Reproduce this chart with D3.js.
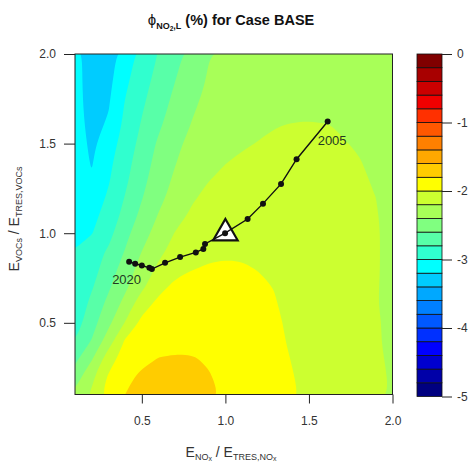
<!DOCTYPE html>
<html>
<head>
<meta charset="utf-8">
<script src="https://cdn.jsdelivr.net/npm/d3@7"></script>
<style>
body{margin:0;background:#fff}
text{font-family:"Liberation Sans",Arial,sans-serif}
</style>
</head>
<body>
<div id="chart"></div>
<script>
// grid of the field (x = E_NOx ratio, y = E_VOCs ratio)
const xGrid = [0.1,0.2,0.3,0.4,0.5,0.6,0.7,0.8,0.9,1.0,1.1,1.2,1.3,1.4,1.5,1.6,1.7,1.8,1.9,2.0]
const yGrid = [0.1,0.2,0.3,0.4,0.5,0.6,0.7,0.8,0.9,1.0,1.1,1.2,1.3,1.4,1.5,1.6,1.7,1.8,1.9,2.0]
// phi values (%) one row per yGrid entry, bottom row first
const phiRows = [
  [-2.35,-2.17,-1.90,-1.80,-1.75,-1.71,-1.70,-1.72,-1.77,-1.82,-1.86,-1.90,-1.94,-1.985,-2.03,-2.065,-2.10,-2.14,-2.175,-2.21],
  [-2.50,-2.25,-1.98,-1.84,-1.77,-1.75,-1.74,-1.76,-1.79,-1.84,-1.88,-1.915,-1.955,-1.995,-2.035,-2.07,-2.105,-2.14,-2.18,-2.21],
  [-2.65,-2.42,-2.09,-1.91,-1.84,-1.795,-1.785,-1.79,-1.815,-1.855,-1.895,-1.93,-1.965,-2.005,-2.045,-2.08,-2.115,-2.15,-2.185,-2.215],
  [-2.80,-2.59,-2.30,-1.98,-1.90,-1.86,-1.845,-1.845,-1.86,-1.885,-1.915,-1.945,-1.978,-2.015,-2.05,-2.09,-2.12,-2.155,-2.19,-2.22],
  [-2.90,-2.68,-2.45,-2.19,-1.95,-1.91,-1.89,-1.88,-1.89,-1.905,-1.93,-1.955,-1.985,-2.02,-2.055,-2.09,-2.125,-2.16,-2.19,-2.22],
  [-2.95,-2.74,-2.54,-2.33,-2.07,-1.95,-1.925,-1.91,-1.91,-1.92,-1.94,-1.965,-1.995,-2.03,-2.065,-2.10,-2.13,-2.165,-2.195,-2.225],
  [-2.93,-2.82,-2.63,-2.44,-2.24,-2.05,-1.96,-1.935,-1.93,-1.935,-1.95,-1.975,-2.005,-2.04,-2.075,-2.11,-2.14,-2.17,-2.195,-2.22],
  [-2.97,-2.88,-2.70,-2.51,-2.32,-2.16,-2.05,-2.005,-1.985,-1.98,-1.985,-2.005,-2.03,-2.06,-2.09,-2.12,-2.15,-2.175,-2.195,-2.215],
  [-2.99,-2.87,-2.78,-2.59,-2.40,-2.25,-2.13,-2.06,-2.03,-2.02,-2.02,-2.03,-2.05,-2.08,-2.105,-2.13,-2.155,-2.175,-2.195,-2.215],
  [-3.08,-3.01,-2.86,-2.66,-2.47,-2.33,-2.19,-2.12,-2.08,-2.06,-2.055,-2.06,-2.075,-2.095,-2.12,-2.145,-2.165,-2.18,-2.195,-2.215],
  [-3.10,-3.06,-2.92,-2.74,-2.55,-2.39,-2.27,-2.17,-2.12,-2.10,-2.09,-2.09,-2.10,-2.115,-2.135,-2.155,-2.17,-2.185,-2.197,-2.215],
  [-3.10,-3.13,-2.97,-2.79,-2.61,-2.45,-2.33,-2.22,-2.16,-2.135,-2.12,-2.115,-2.12,-2.13,-2.145,-2.16,-2.175,-2.19,-2.20,-2.215],
  [-3.10,-3.185,-3.02,-2.84,-2.66,-2.49,-2.37,-2.27,-2.205,-2.17,-2.15,-2.14,-2.14,-2.145,-2.155,-2.165,-2.18,-2.193,-2.205,-2.22],
  [-3.10,-3.215,-3.05,-2.87,-2.70,-2.53,-2.41,-2.31,-2.25,-2.205,-2.18,-2.165,-2.16,-2.165,-2.17,-2.18,-2.19,-2.198,-2.21,-2.22],
  [-3.10,-3.24,-3.10,-2.91,-2.74,-2.57,-2.44,-2.35,-2.29,-2.25,-2.215,-2.195,-2.185,-2.183,-2.185,-2.19,-2.197,-2.205,-2.215,-2.225],
  [-3.10,-3.27,-3.17,-2.95,-2.78,-2.63,-2.49,-2.39,-2.32,-2.28,-2.245,-2.22,-2.203,-2.195,-2.193,-2.197,-2.205,-2.213,-2.222,-2.23],
  [-3.10,-3.30,-3.21,-2.98,-2.82,-2.67,-2.54,-2.42,-2.35,-2.31,-2.28,-2.255,-2.237,-2.225,-2.22,-2.222,-2.227,-2.233,-2.24,-2.245],
  [-3.10,-3.32,-3.24,-3.02,-2.86,-2.71,-2.58,-2.46,-2.37,-2.33,-2.30,-2.28,-2.265,-2.255,-2.25,-2.25,-2.252,-2.256,-2.26,-2.265],
  [-3.10,-3.33,-3.27,-3.06,-2.90,-2.75,-2.62,-2.50,-2.39,-2.35,-2.32,-2.30,-2.285,-2.275,-2.27,-2.27,-2.27,-2.272,-2.275,-2.28],
  [-3.10,-3.34,-3.30,-3.10,-2.94,-2.79,-2.66,-2.53,-2.41,-2.37,-2.34,-2.32,-2.305,-2.295,-2.29,-2.287,-2.287,-2.29,-2.293,-2.297]
]
// colour classes, lowest first
const breaks = [-5,-4.8,-4.6,-4.4,-4.2,-4,-3.8,-3.6,-3.4,-3.2,-3,-2.8,-2.6,-2.4,-2.2,-2,-1.8,-1.6,-1.4,-1.2,-1,-0.8,-0.6,-0.4,-0.2,0]
const classColors = ["#000080","#0000a8","#0000d0","#0000ff","#0030ff","#0058ff","#0080ff","#00a8ff","#00ccff","#00ffff",
  "#30ffcf","#58ffa8","#80ff80","#a8ff58","#ccff30","#ffff00","#ffcc00","#ffa800","#ff8000","#ff5800",
  "#ff3000","#f00000","#cc0000","#a80000","#800000"]
const barTicks = [0,-1,-2,-3,-4,-5]
const axisTicks = [0.5,1.0,1.5,2.0]
// trajectory 2005 -> 2020
const years = [2005,2006,2007,2008,2009,2010,2011,2012,2013,2014,2015,2016,2017,2018,2019,2020]
const trajNOx = [1.612,1.426,1.333,1.225,1.133,0.998,0.878,0.868,0.823,0.729,0.639,0.56,0.545,0.50,0.46,0.424]
const trajVOC = [1.623,1.413,1.275,1.165,1.079,1.0,0.94,0.912,0.893,0.867,0.835,0.80,0.807,0.82,0.83,0.841]
const basePoint = [1.0, 1.0]

const width = 469, height = 463
const plot = {left: 75, right: 392.5, top: 54, bottom: 394.5}
const svg = d3.select("#chart").append("svg")
  .attr("width", width).attr("height", height)

const x = d3.scaleLinear().domain([0.1, 2.0]).range([plot.left, plot.right])
const y = d3.scaleLinear().domain([0.1, 2.0]).range([plot.bottom, plot.top])
// grid index -> pixel (d3.contours puts value i at i + 0.5)
const gx = d3.scaleLinear().domain([0.5, xGrid.length - 0.5]).range([x(xGrid[0]), x(xGrid[xGrid.length-1])])
const gy = d3.scaleLinear().domain([0.5, yGrid.length - 0.5]).range([y(yGrid[0]), y(yGrid[yGrid.length-1])])

svg.append("clipPath").attr("id", "clip")
  .append("rect")
  .attr("x", plot.left).attr("y", plot.top)
  .attr("width", plot.right - plot.left).attr("height", plot.bottom - plot.top)

const values = phiRows.flat()
const contours = d3.contours()
  .size([xGrid.length, yGrid.length])
  .thresholds(breaks.slice(0, -1))(values)

const ringLine = d3.line().curve(d3.curveBasisClosed)
function contourPath(mp) {
  let d = ""
  mp.coordinates.forEach(poly => poly.forEach(ring => {
    const pts = ring.slice(0, -1).map(p => [gx(p[0]), gy(p[1])])
    d += ringLine(pts)
  }))
  return d
}

const layer_field = svg.append("g").attr("clip-path", "url(#clip)")
layer_field.append("rect")
  .attr("x", plot.left).attr("y", plot.top)
  .attr("width", plot.right - plot.left).attr("height", plot.bottom - plot.top)
  .attr("fill", classColors[breaks.indexOf(-2.4)])
layer_field.selectAll("path")
  .data(contours.filter(c => c.coordinates.length))
  .join("path")
  .attr("d", contourPath)
  .attr("fill-rule", "evenodd")
  .attr("fill", c => classColors[breaks.indexOf(c.value)])

// frame
svg.append("rect")
  .attr("x", plot.left).attr("y", plot.top)
  .attr("width", plot.right - plot.left).attr("height", plot.bottom - plot.top)
  .attr("fill", "none").attr("stroke", "#222").attr("stroke-width", 1)

// axes
const fmt = d3.format(".1f")
const layer_x_axis = svg.append("g")
  .attr("transform", `translate(0,${plot.bottom})`)
  .call(d3.axisBottom(x).tickValues(axisTicks).tickFormat(fmt).tickSize(9).tickPadding(13))
const layer_y_axis = svg.append("g")
  .attr("transform", `translate(${plot.left},0)`)
  .call(d3.axisLeft(y).tickValues(axisTicks).tickFormat(fmt).tickSize(11).tickPadding(8))
;[layer_x_axis, layer_y_axis].forEach(g => {
  g.select(".domain").remove()
  g.selectAll(".tick line").attr("stroke", "#222")
  g.selectAll(".tick text").attr("fill", "#333")
    .style("font-size", "12px").style("font-family", "Liberation Sans, Arial, sans-serif")
})

// trajectory
const layer_traj = svg.append("g")
layer_traj.append("path")
  .attr("d", d3.symbol(d3.symbolTriangle, 260)())
  .attr("transform", `translate(${x(basePoint[0])},${y(basePoint[1])})`)
  .attr("fill", "#fff").attr("stroke", "#111").attr("stroke-width", 2.2)
  .attr("stroke-linejoin", "miter")
layer_traj.append("path")
  .datum(years.map((yr, i) => [trajNOx[i], trajVOC[i]]))
  .attr("fill", "none").attr("stroke", "#111").attr("stroke-width", 1.4)
  .attr("d", d3.line().x(d => x(d[0])).y(d => y(d[1])))
layer_traj.selectAll("circle")
  .data(years.map((yr, i) => [trajNOx[i], trajVOC[i]]))
  .join("circle")
  .attr("cx", d => x(d[0])).attr("cy", d => y(d[1]))
  .attr("r", 3).attr("fill", "#111")
const last = years.length - 1
layer_traj.append("text")
  .attr("x", x(trajNOx[0]) - 10).attr("y", y(trajVOC[0]) + 23)
  .style("font-size", "13px").attr("fill", "#223a22").text(years[0])
layer_traj.append("text")
  .attr("x", x(trajNOx[last]) - 17).attr("y", y(trajVOC[last]) + 22)
  .style("font-size", "13px").attr("fill", "#223a22").text(years[last])

// colour bar
const bar = {left: 417, right: 442}
const cb = d3.scaleLinear().domain([0, -5]).range([54, 396.5])
const layer_bar = svg.append("g")
layer_bar.selectAll("rect")
  .data(classColors)
  .join("rect")
  .attr("x", bar.left).attr("width", bar.right - bar.left)
  .attr("y", (c, i) => cb(breaks[i + 1]))
  .attr("height", (c, i) => cb(breaks[i]) - cb(breaks[i + 1]))
  .attr("fill", c => c).attr("stroke", "#111").attr("stroke-width", 0.8)
const layer_bar_axis = svg.append("g")
  .attr("transform", `translate(${bar.right},0)`)
  .call(d3.axisRight(cb).tickValues(barTicks).tickFormat(d => String(d)).tickSize(10).tickPadding(5))
layer_bar_axis.select(".domain").remove()
layer_bar_axis.selectAll(".tick line").attr("stroke", "#222")
layer_bar_axis.selectAll(".tick text").attr("fill", "#333")
  .style("font-size", "12px").style("font-family", "Liberation Sans, Arial, sans-serif")

// title
const title = svg.append("text")
  .attr("x", 231).attr("y", 25).attr("text-anchor", "middle").attr("fill", "#111")
title.append("tspan").style("font-size", "15px").text("ϕ")
title.append("tspan").style("font-size", "9px").style("font-weight", "bold").attr("dy", 4).text("NO")
title.append("tspan").style("font-size", "6.5px").style("font-weight", "bold").attr("dy", 2).text("2")
title.append("tspan").style("font-size", "9px").style("font-weight", "bold").attr("dy", -2).text(",L")
title.append("tspan").style("font-size", "14.5px").style("font-weight", "bold").attr("dy", -4).text(" (%) for Case BASE")

// axis titles
const xl = svg.append("text")
  .attr("x", 231).attr("y", 457).attr("text-anchor", "middle").attr("fill", "#333")
xl.append("tspan").style("font-size", "14px").text("E")
xl.append("tspan").style("font-size", "9px").attr("dy", 2.5).text("NO")
xl.append("tspan").style("font-size", "7px").attr("dy", 1.5).text("x")
xl.append("tspan").style("font-size", "14px").attr("dy", -4).text(" / E")
xl.append("tspan").style("font-size", "9px").attr("dy", 2.5).text("TRES,NO")
xl.append("tspan").style("font-size", "7px").attr("dy", 1.5).text("x")

const yl = svg.append("text")
  .attr("transform", "translate(18.5,219) rotate(-90)")
  .attr("text-anchor", "middle").attr("fill", "#333")
yl.append("tspan").style("font-size", "14px").text("E")
yl.append("tspan").style("font-size", "9px").attr("dy", 3).text("VOCs")
yl.append("tspan").style("font-size", "14px").attr("dy", -3).text(" / E")
yl.append("tspan").style("font-size", "9px").attr("dy", 3).text("TRES,VOCs")
</script>
</body>
</html>
